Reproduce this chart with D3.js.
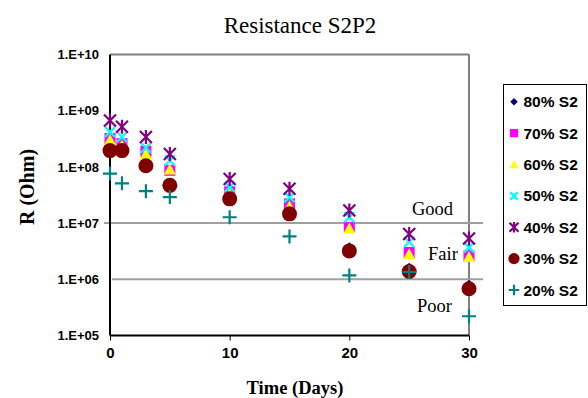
<!DOCTYPE html>
<html><head><meta charset="utf-8">
<script src="https://cdn.jsdelivr.net/npm/d3@7"></script>
<style>body{margin:0;background:#fff}svg{display:block}</style>
</head><body>
<svg id="c" width="588" height="398"></svg>
<script>
const days = [0, 1, 3, 5, 10, 15, 20, 25, 30];
const s80 = [2.1e8, 2.0e8, 1.15e8, 5.0e7, 2.8e7, 1.5e7, 3.7e6, 1.6e6, 8.0e5];
const s70 = [3.2e8, 2.6e8, 1.9e8, 8.7e7, 3.6e7, 2.2e7, 8.4e6, 3.0e6, 2.6e6];
const s60 = [3.0e8, 2.4e8, 1.7e8, 9.0e7, 3.3e7, 2.0e7, 8.0e6, 2.8e6, 2.5e6];
const s50 = [4.2e8, 3.4e8, 2.2e8, 1.3e8, 4.4e7, 2.9e7, 1.27e7, 4.6e6, 3.7e6];
const s40 = [6.7e8, 5.2e8, 3.4e8, 1.7e8, 6.1e7, 4.1e7, 1.67e7, 6.4e6, 5.3e6];
const s30 = [1.95e8, 1.95e8, 1.05e8, 4.7e7, 2.7e7, 1.46e7, 3.2e6, 1.38e6, 6.8e5];
const s20 = [7.6e7, 5.1e7, 3.7e7, 2.9e7, 1.27e7, 5.8e6, 1.17e6, 1.35e6, 2.2e5];
const seriesNames = ["80% S2", "70% S2", "60% S2", "50% S2", "40% S2", "30% S2", "20% S2"];
const yTicks = [1e5, 1e6, 1e7, 1e8, 1e9, 1e10];
const xTicks = [0, 10, 20, 30];
const thresholds = [1e7, 1e6];
const zoneLabels = ["Good", "Fair", "Poor"];

const series = [
  {name: seriesNames[0], vals: s80, color: "#000080", shape: "diamond"},
  {name: seriesNames[1], vals: s70, color: "#ff00ff", shape: "square"},
  {name: seriesNames[2], vals: s60, color: "#ffff00", shape: "triangle"},
  {name: seriesNames[3], vals: s50, color: "#00ffff", shape: "x"},
  {name: seriesNames[4], vals: s40, color: "#800080", shape: "star"},
  {name: seriesNames[5], vals: s30, color: "#800000", shape: "circle"},
  {name: seriesNames[6], vals: s20, color: "#008080", shape: "plus"}
];

const svg = d3.select("#c");
const L = 110, R = 469, T = 54.5, B = 335.5;
const x = d3.scaleLinear().domain([0, 30]).range([L, R]);
const y = d3.scaleLog().domain([1e5, 1e10]).range([B, T]);
const serif = "'Liberation Serif','Times New Roman',serif";
const sans = "'Liberation Sans',Arial,sans-serif";

// title
svg.append("text").attr("x", 300).attr("y", 33).attr("text-anchor", "middle")
  .attr("font-family", serif).attr("font-size", 23).text("Resistance S2P2");

// plot border (top/right gray)
svg.append("line").attr("x1", L).attr("x2", R).attr("y1", T).attr("y2", T).attr("stroke", "#808080").attr("stroke-width", 2);
svg.append("line").attr("x1", R).attr("x2", R).attr("y1", T).attr("y2", B).attr("stroke", "#808080").attr("stroke-width", 2);

// threshold lines
const thStart = [104, 112];
svg.selectAll("line.th").data(thresholds).join("line").attr("class", "th")
  .attr("x1", (d, i) => thStart[i]).attr("x2", 483).attr("y1", d => y(d)).attr("y2", d => y(d))
  .attr("stroke", "#a0a0a0").attr("stroke-width", 2);

// zone labels
const zPos = [[412, 215], [428, 260], [417, 311.5]];
svg.selectAll("text.zone").data(zoneLabels).join("text").attr("class", "zone")
  .attr("x", (d, i) => zPos[i][0]).attr("y", (d, i) => zPos[i][1])
  .attr("font-family", serif).attr("font-size", 18.5).text(d => d);

// axes
const yAxis = d3.axisLeft(y).tickValues(yTicks).tickSize(0)
  .tickFormat(d => "1.E+" + String(Math.round(Math.log10(d))).padStart(2, "0"));
const gy = svg.append("g").attr("transform", `translate(${L},0)`).call(yAxis);
gy.select(".domain").attr("stroke", "#000").attr("stroke-width", 2).attr("d", `M0,${T}V${B}`);
gy.selectAll(".tick text").attr("font-family", sans).attr("font-weight", "bold").attr("font-size", 13)
  .attr("x", -11).attr("fill", "#000");

const xAxis = d3.axisBottom(x).tickValues(xTicks).tickSize(5).tickFormat(d3.format("d"));
const gx = svg.append("g").attr("transform", `translate(0,${B})`).call(xAxis);
gx.select(".domain").attr("stroke", "#000").attr("stroke-width", 2).attr("d", `M${L},0H${R}`);
gx.selectAll(".tick line").attr("stroke", "#000");
gx.selectAll(".tick text").attr("font-family", sans).attr("font-weight", "bold").attr("font-size", 15)
  .attr("y", 12).attr("fill", "#000");

// axis titles
svg.append("text").attr("x", 295).attr("y", 394).attr("text-anchor", "middle")
  .attr("font-family", serif).attr("font-weight", "bold").attr("font-size", 18.5).text("Time (Days)");
svg.append("text").attr("transform", "translate(34,187) rotate(-90)").attr("text-anchor", "middle")
  .attr("font-family", serif).attr("font-weight", "bold").attr("font-size", 20).text("R (Ohm)");

// marker drawing
function drawMarker(g, shape, color, scale) {
  const k = scale || 1;
  switch (shape) {
    case "diamond":
      g.append("path").attr("d", `M0,${-5*k}L${5*k},0L0,${5*k}L${-5*k},0Z`).attr("fill", color); break;
    case "square":
      g.append("rect").attr("x", -5.5*k).attr("y", -5.5*k).attr("width", 11*k).attr("height", 11*k).attr("fill", color); break;
    case "triangle":
      g.append("path").attr("d", `M0,${-6*k}L${6*k},${5*k}L${-6*k},${5*k}Z`).attr("fill", color); break;
    case "x":
      g.append("path").attr("d", `M${-5*k},${-5*k}L${5*k},${5*k}M${5*k},${-5*k}L${-5*k},${5*k}`)
        .attr("stroke", color).attr("stroke-width", 2.2).attr("fill", "none"); break;
    case "star":
      g.append("path").attr("d", `M${-6*k},${-6*k}L${6*k},${6*k}M${6*k},${-6*k}L${-6*k},${6*k}M0,${-7*k}L0,${7*k}`)
        .attr("stroke", color).attr("stroke-width", 2.2).attr("fill", "none"); break;
    case "circle":
      g.append("circle").attr("r", 7.5*k).attr("fill", color); break;
    case "plus":
      g.append("path").attr("d", `M${-7*k},0L${7*k},0M0,${-7*k}L0,${7*k}`)
        .attr("stroke", color).attr("stroke-width", 2.2).attr("fill", "none"); break;
  }
}

series.forEach(s => {
  const g = svg.append("g");
  s.vals.forEach((v, i) => {
    const m = g.append("g").attr("transform", `translate(${x(days[i])},${y(v)})`);
    drawMarker(m, s.shape, s.color, 1);
  });
});

// legend
const lg = svg.append("g");
lg.append("rect").attr("x", 503.5).attr("y", 84.5).attr("width", 83).attr("height", 221)
  .attr("fill", "#fff").attr("stroke", "#000").attr("stroke-width", 1);
const ly = d3.scalePoint().domain(seriesNames).range([101.7, 290]);
series.forEach(s => {
  const m = lg.append("g").attr("transform", `translate(514,${ly(s.name)})`);
  drawMarker(m, s.shape, s.color, 0.75);
  lg.append("text").attr("x", 523.5).attr("y", ly(s.name)).attr("dy", "0.36em")
    .attr("font-family", sans).attr("font-weight", "bold").attr("font-size", 15.5).text(s.name);
});
</script>
</body></html>
